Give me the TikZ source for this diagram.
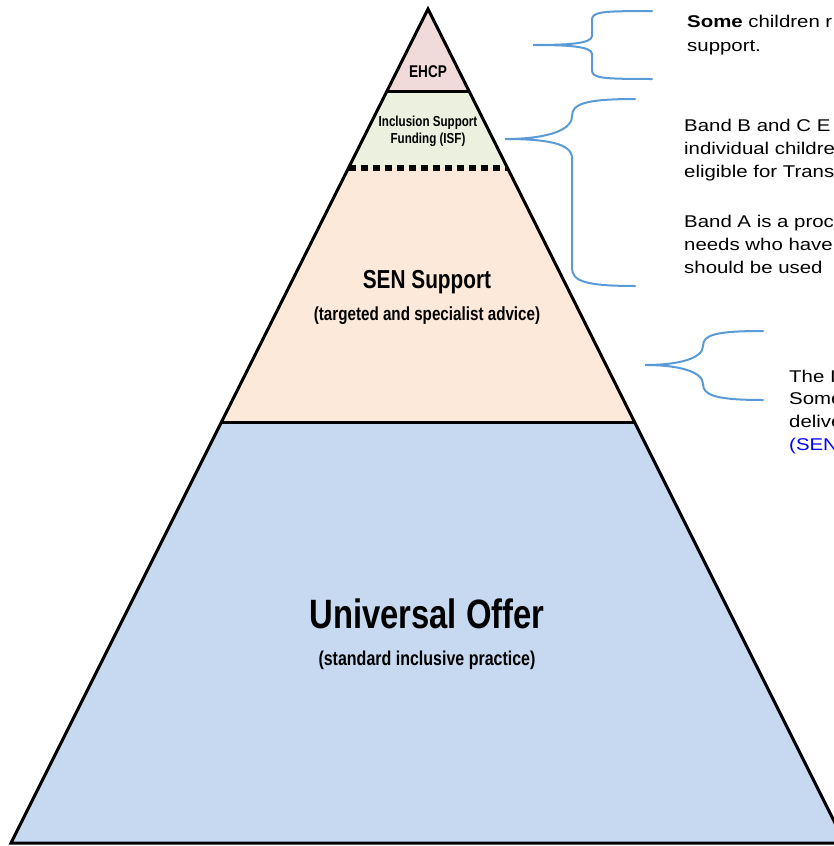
\documentclass[tikz,border=0pt]{standalone}
\usepackage{fontspec}
\usepackage{xcolor}
\usepackage{tikz}
\usetikzlibrary{positioning, calc}
\newfontfamily\pyrfont[FakeStretch=0.8]{Liberation Sans}
\newfontfamily\notefont[FakeStretch=1.2]{Liberation Sans}
\definecolor{ehcpfill}{RGB}{240,218,218}
\definecolor{isffill}{RGB}{235,241,222}
\definecolor{senfill}{RGB}{253,233,217}
\definecolor{unifill}{RGB}{198,217,240}
\definecolor{bracecol}{RGB}{91,155,213}

\begin{document}
\begin{tikzpicture}[x=1pt, y=-1pt,
  edge/.style={draw=black, line width=3pt, line join=miter},
  brace/.style={draw=bracecol, line width=2pt, line cap=round},
  lvl/.style={inner sep=0pt, anchor=base, font=\pyrfont\bfseries},
  note/.style={inner sep=0pt, anchor=base west, font=\notefont\fontsize{17}{20}\selectfont}]
  \useasboundingbox (0,0) rectangle (834,846);
  \clip (0,0) rectangle (834,846);
  \foreach \a/\b/\c in {9/91/ehcpfill, 91/168/isffill, 168/422/senfill, 422/843/unifill}
    \fill[\c] ({428-(\a-9)/2},\a) -- ({428+(\a-9)/2},\a) -- ({428+(\b-9)/2},\b) -- ({428-(\b-9)/2},\b) -- cycle;
  \draw[black, line width=6pt, dash pattern=on 7pt off 5pt] (348.5,168) -- (507.5,168);
  \draw[edge] (387,91) -- (469,91);
  \draw[edge] (221.5,422) -- (634.5,422);
  \draw[edge] (428,9) -- (11,843) -- (845,843) -- cycle;
  \node[lvl, font=\pyrfont\bfseries\fontsize{17}{20}\selectfont] (ehcp) at (428,77) {EHCP};
  \node[lvl, font=\pyrfont\bfseries\fontsize{14.5}{17}\selectfont] (isf1) at (428,126) {Inclusion Support};
  \node[lvl, font=\pyrfont\bfseries\fontsize{14.5}{17}\selectfont] (isf2) at (428,143) {Funding (ISF)};
  \node[lvl, font=\pyrfont\bfseries\fontsize{26}{30}\selectfont] (sen) at (427,288) {SEN Support};
  \node[lvl, font=\pyrfont\bfseries\fontsize{19}{22}\selectfont] (senx) at (427,320) {(targeted and specialist advice)};
  \node[lvl, font=\pyrfont\bfseries\fontsize{41}{46}\selectfont] (uni) at (427,628) {Universal Offer};
  \node[lvl, font=\pyrfont\bfseries\fontsize{20}{24}\selectfont] (unix) at (427,665) {(standard inclusive practice)};
  \draw[brace] (652,11) .. controls (600,11) and (592,12) .. (592,20) -- (592,36)
    .. controls (592,44) and (565,45) .. (533,45)
    .. controls (565,45) and (592,46) .. (592,54) -- (592,70)
    .. controls (592,78) and (600,79) .. (652,79);
  \draw[brace] (635,99) .. controls (585,99) and (572,104) .. (572,116)
    .. controls (572,132) and (542,139) .. (505,139)
    .. controls (545,139) and (572,143) .. (572,158) -- (572,268)
    .. controls (572,281) and (585,286) .. (635,286);
  \draw[brace] (763,331) .. controls (715,331) and (703,335) .. (703,346)
    .. controls (703,358) and (680,365) .. (645,365)
    .. controls (680,365) and (703,372) .. (703,384)
    .. controls (703,395) and (715,400) .. (763,400);
  \node[note] (a1) at (687,27) {\textbf{Some} children r};
  \node[note] (a2) at (687,51.5) {support.};
  \foreach \t/\y [count=\i] in {Band B and C E/131, individual childre/154, eligible for Trans/177,
      Band A is a proc/227, needs who have/250, should be used/273}
    \node[note] (b\i) at (684,\y) {\t};
  \foreach \t/\y [count=\i] in {The I/382, Some/404.5, delive/427}
    \node[note] (c\i) at (789,\y) {\t};
  \node[note, text=blue] (c4) at (789,450) {(SEN};
\end{tikzpicture}
\end{document}
